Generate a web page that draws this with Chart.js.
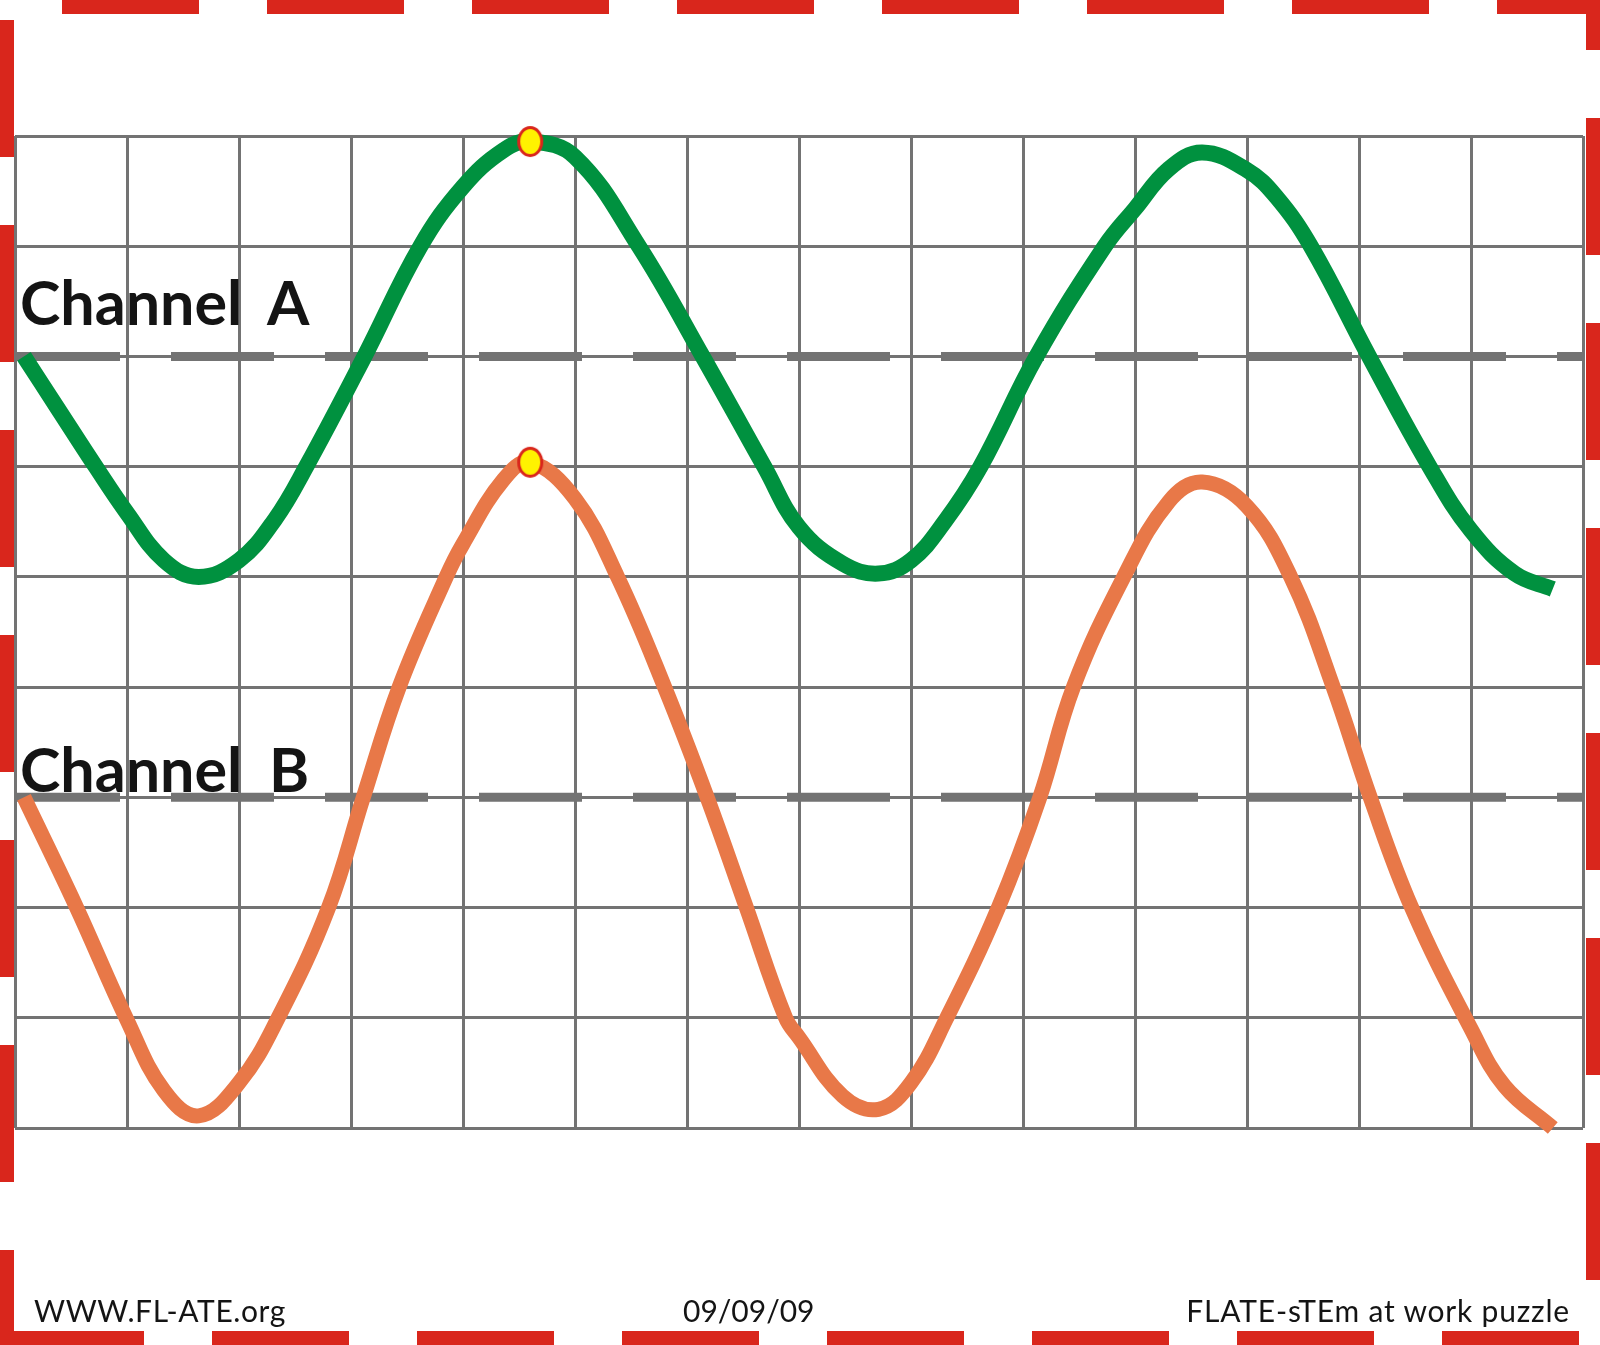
<!DOCTYPE html>
<html>
<head>
<meta charset="utf-8">
<script src="https://cdn.jsdelivr.net/npm/chart.js@4.4.1/dist/chart.umd.min.js"></script>
<style>
  body { margin: 0; background: #ffffff; }
  #wrap { position: relative; width: 1600px; height: 1345px; }
  #scope { position: absolute; left: 0; top: 0; }
  .lbl { position: absolute; font-family: "Comic Sans MS", Lato, sans-serif; color: #141414; white-space: nowrap; line-height: 1; }
  .ch { font-weight: 700; font-size: 61px; word-spacing: 12px; }
  .foot { font-size: 30px; }
</style>
</head>
<body>
<div id="wrap">
  <canvas id="scope" width="1600" height="1345"></canvas>
  <div class="lbl ch" style="left:20px; top:271px;">Channel A</div>
  <div class="lbl ch" style="left:20px; top:738px;">Channel B</div>
  <div class="lbl foot" style="left:34px; top:1295px; letter-spacing:0.6px;">WWW.FL-ATE.org</div>
  <div class="lbl foot" style="left:683px; top:1295px;">09/09/09</div>
  <div class="lbl foot" style="right:30px; top:1295px; letter-spacing:0.8px;">FLATE-sTEm at work puzzle</div>
</div>
<script>
  // grid units: 14 divisions across, 9 down
  var chAX = [0.08, 0.4, 0.72, 1.0, 1.33, 1.64, 2.0, 2.32, 2.6, 3.12, 3.62, 4.0, 4.36, 4.6,
              5.0, 5.57, 6.14, 6.69, 7.0, 7.39, 7.71, 8.0, 8.3, 8.62, 9.12, 9.73, 10.0, 10.3, 10.6,
              11.0, 11.26, 11.57, 12.09, 12.63, 13.0, 13.39, 13.73];
  var chAY = [7.0, 6.5, 6.0, 5.58, 5.15, 5.0, 5.15, 5.52, 6.0, 7.0, 8.0, 8.54, 8.87, 8.95,
              8.81, 8.0, 7.0, 6.0, 5.45, 5.12, 5.03, 5.15, 5.5, 6.0, 7.0, 8.0, 8.34, 8.7, 8.85,
              8.69, 8.45, 8.0, 7.0, 6.0, 5.42, 5.03, 4.89];

  var chBX = [0.08, 0.55, 1.0, 1.33, 1.64, 2.0, 2.35, 2.8, 3.11, 3.43, 3.85, 4.0, 4.36, 4.6,
              5.0, 5.38, 5.8, 6.18, 6.53, 6.88, 7.0, 7.39, 7.71, 8.0, 8.32, 8.78, 9.15, 9.45, 9.9,
              10.3, 10.6, 11.0, 11.39, 11.77, 12.1, 12.47, 13.0, 13.3, 13.73];
  var chBY = [3.0, 2.0, 0.98, 0.34, 0.11, 0.41, 1.0, 2.0, 3.0, 4.0, 5.0, 5.3, 5.88, 6.04,
              5.71, 5.0, 4.0, 3.0, 2.0, 1.0, 0.82, 0.29, 0.17, 0.41, 1.0, 2.0, 3.0, 4.0, 5.0,
              5.68, 5.86, 5.64, 5.0, 4.0, 3.0, 2.0, 0.9, 0.38, 0.0];

  var markerX = [4.6, 4.6];
  var markerY = [8.95, 6.04];

  var zeroLevels = [7, 3];     // channel A and B reference lines
  var xRange = [0, 14];
  var yRange = [0, 9];

  function pts(xs, ys) {
    var out = [];
    for (var i = 0; i < xs.length; i++) out.push({x: xs[i], y: ys[i]});
    return out;
  }

  // yellow ellipse with red rim for the peak markers
  var dot = document.createElement('canvas');
  dot.width = 28; dot.height = 33;
  var dc = dot.getContext('2d');
  dc.beginPath();
  dc.ellipse(14, 16.5, 11.5, 14, 0, 0, Math.PI * 2);
  dc.fillStyle = '#fff200';
  dc.fill();
  dc.lineWidth = 3;
  dc.strokeStyle = '#d9261c';
  dc.stroke();

  // dashed red frame round the page
  var frame = {
    id: 'frame',
    afterDraw: function(chart) {
      var c = chart.ctx;
      c.save();
      c.strokeStyle = '#d9261c';
      c.lineWidth = 14;
      c.setLineDash([137, 68]);
      c.beginPath(); c.moveTo(62, 7); c.lineTo(1600, 7); c.stroke();
      c.beginPath(); c.moveTo(7, 20); c.lineTo(7, 1345); c.stroke();
      c.beginPath(); c.moveTo(7, 1338); c.lineTo(1600, 1338); c.stroke();
      c.beginPath(); c.moveTo(1593, -87); c.lineTo(1593, 1345); c.stroke();
      c.restore();
    }
  };

  var datasets = [
    {
      label: 'Peaks',
      data: pts(markerX, markerY),
      showLine: false,
      pointStyle: dot,
      pointRadius: 14,
      clip: false,
      order: 0
    },
    {
      label: 'Channel A',
      data: pts(chAX, chAY),
      borderColor: '#00913f',
      borderWidth: 16,
      pointRadius: 0,
      showLine: true,
      tension: 0.4,
      clip: false,
      order: 1
    },
    {
      label: 'Channel B',
      data: pts(chBX, chBY),
      borderColor: '#e87848',
      borderWidth: 15,
      pointRadius: 0,
      showLine: true,
      tension: 0.4,
      clip: false,
      order: 2
    }
  ];
  zeroLevels.forEach(function(lv, i) {
    datasets.push({
      label: 'zero ' + i,
      data: [{x: xRange[0], y: lv}, {x: xRange[1], y: lv}],
      borderColor: '#737373',
      borderWidth: 9,
      borderDash: [103, 51],
      borderDashOffset: -2,
      pointRadius: 0,
      showLine: true,
      order: 5
    });
  });

  new Chart(document.getElementById('scope'), {
    type: 'scatter',
    data: { datasets: datasets },
    options: {
      responsive: false,
      animation: false,
      layout: { padding: { left: 12, right: 17, top: 136, bottom: 217 } },
      plugins: { legend: { display: false }, tooltip: { enabled: false } },
      scales: {
        x: {
          type: 'linear', min: xRange[0], max: xRange[1],
          ticks: { display: false, stepSize: 1 },
          grid: { color: '#737373', lineWidth: 3, drawTicks: false },
          border: { display: false }
        },
        y: {
          type: 'linear', min: yRange[0], max: yRange[1],
          ticks: { display: false, stepSize: 1 },
          grid: { color: '#737373', lineWidth: 3, drawTicks: false },
          border: { display: false }
        }
      }
    },
    plugins: [frame]
  });
</script>
</body>
</html>
